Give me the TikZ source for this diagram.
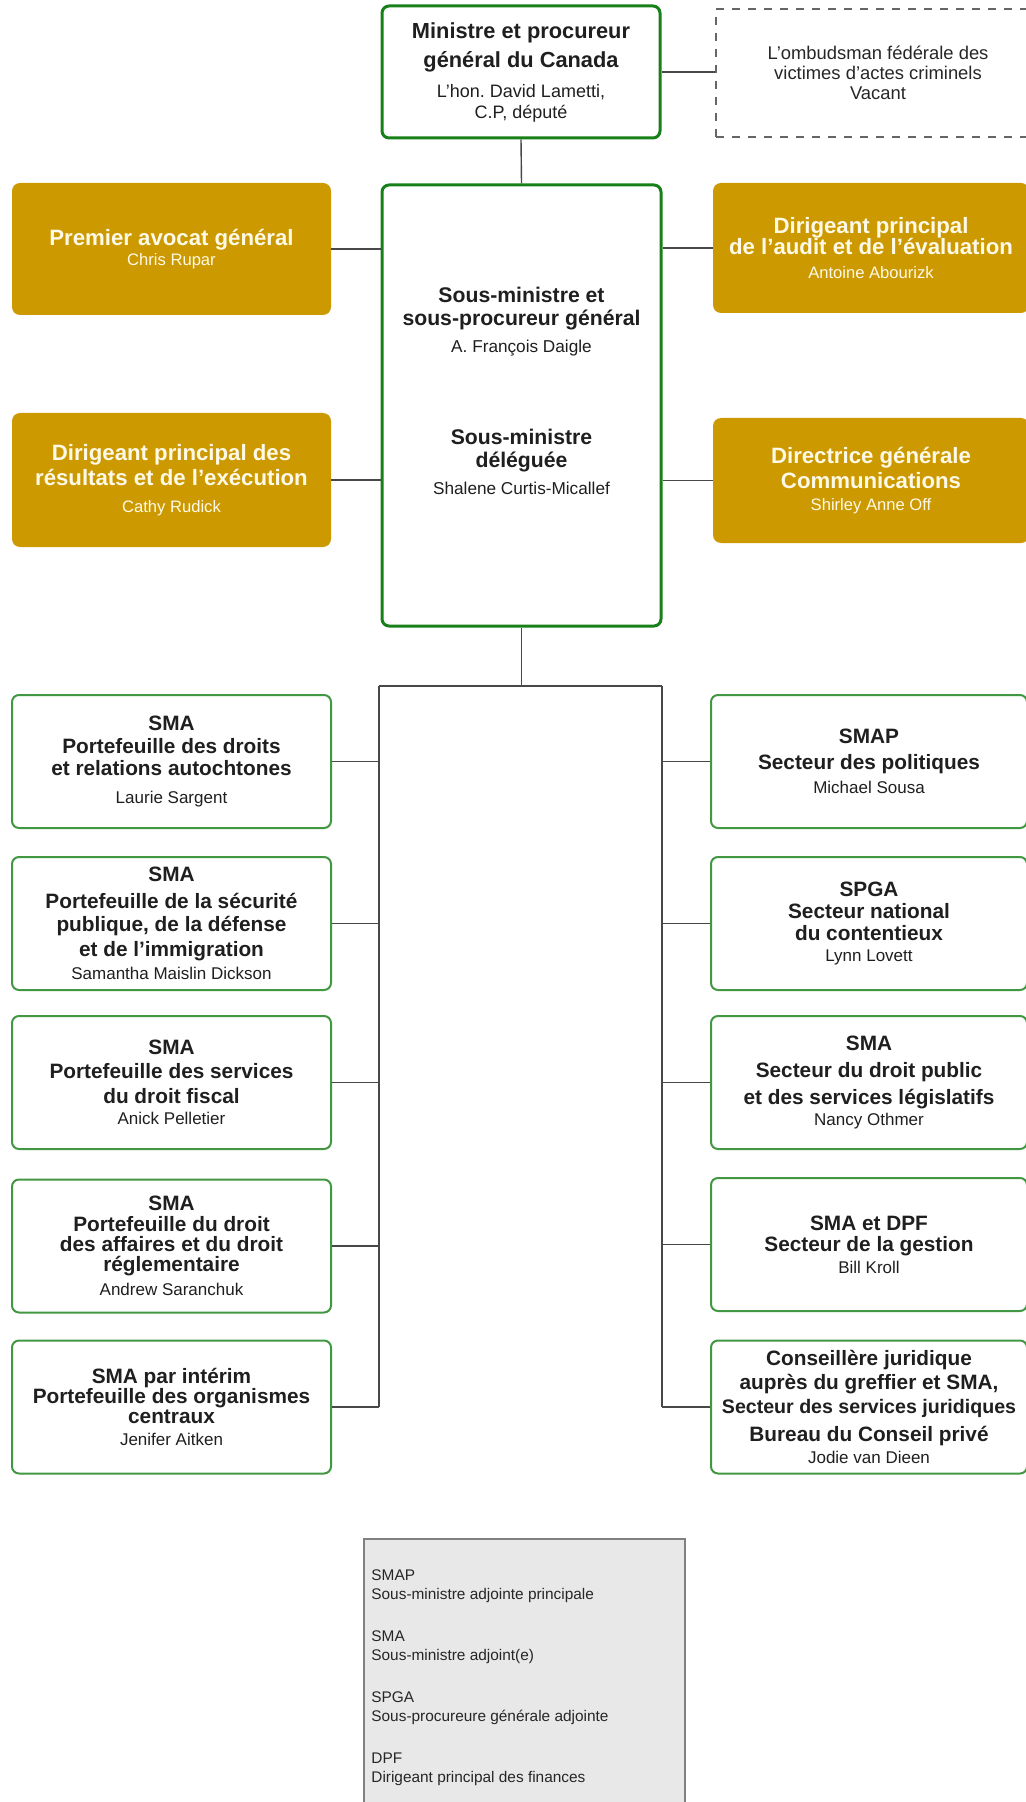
\documentclass[tikz,border=0pt]{standalone}
\usepackage{fontspec}
\setmainfont{Liberation Sans}
\usepackage{tikz}
\usetikzlibrary{calc}
\definecolor{topgreen}{RGB}{24,128,24}
\definecolor{boxgreen}{RGB}{66,152,66}
\definecolor{gold}{RGB}{204,153,0}
\definecolor{goldtext}{RGB}{255,250,232}
\definecolor{linkgray}{RGB}{72,72,72}
\definecolor{leggray}{RGB}{232,232,232}
\def\topttl{\fontsize{10.9}{14.5}\selectfont\bfseries}
\def\topnm{\fontsize{9}{10.5}\selectfont\mdseries}
\def\bigttl{\fontsize{10.6}{11.5}\selectfont\bfseries}
\def\bignm{\fontsize{8.6}{11.5}\selectfont\mdseries}
\def\goldttl{\fontsize{11.1}{12.5}\selectfont\bfseries}
\def\goldnm{\fontsize{8.3}{12.5}\selectfont\mdseries}
\def\colttl{\fontsize{10.4}{11}\selectfont\bfseries}
\def\colnm{\fontsize{8.5}{11}\selectfont\mdseries}
\def\vacf{\fontsize{9.2}{10}\selectfont}
\def\legf{\fontsize{7.7}{9.5}\selectfont}
\tikzset{
  topbox/.style={draw=topgreen, line width=1.5pt, rounded corners=3.5pt, fill=white, align=center, inner sep=0pt, text=black!88},
  colbox/.style={draw=boxgreen, line width=1pt, rounded corners=3.5pt, fill=white, align=center, inner sep=0pt, minimum height=66.5pt, text=black!88, font=\colttl},
  goldbox/.style={fill=gold, rounded corners=4pt, align=center, inner sep=0pt, text=goldtext, font=\goldttl},
  vacantbox/.style={draw=black!60, dash pattern=on 4pt off 4pt, line width=0.7pt, align=center, inner sep=0pt, text=black!85, font=\vacf},
  link/.style={draw=linkgray, line width=0.7pt},
  legendbox/.style={draw=black!50, fill=leggray, line width=0.9pt, inner sep=0pt}
}

\begin{document}
\begin{tikzpicture}[x=0.5pt, y=-0.5pt]
			%%%%% START %%%%%
			\useasboundingbox (0,0) rectangle (1025,1802);
			
			\node[topbox, font=\topttl, minimum width=139pt, minimum height=66pt] (min) at (521,72)
			  {Ministre et procureur\\général du Canada\\[0.5pt]\topnm L'hon.\ David Lametti,\\[-4pt]\topnm C.P, député};
			\node[vacantbox, minimum width=162pt, minimum height=64pt] (ombud) at (878,73)
			  {L’ombudsman fédérale des\\victimes d’actes criminels\\Vacant};
			
			\node[topbox, minimum width=139.5pt, minimum height=220.5pt] (sm) at (521.5,405.5) {};
			\node[align=center, text=black!88, font=\bigttl] (smA) at (521.5,322)
			  {Sous-ministre et\\sous-procureur général\\[2pt]\bignm A. François Daigle};
			\node[align=center, text=black!88, font=\bigttl] (smB) at (521.5,462)
			  {Sous-ministre\\déléguée\\[2pt]\bignm Shalene Curtis-Micallef};
			
			\node[goldbox, minimum width=159.5pt, minimum height=66pt] (gl1) at (171.5,249)
			  {Premier avocat général\\[-2.5pt]\goldnm Chris Rupar};
			\node[goldbox, minimum width=159.5pt, minimum height=67pt] (gl2) at (171.5,480)
			  {Dirigeant principal des\\résultats et de l’exécution\\[1pt]\goldnm Cathy Rudick};
			\node[goldbox, minimum width=158pt, minimum height=65pt] (gr1) at (871,248)
			  {Dirigeant principal\\[-2pt]de l'audit et de l'évaluation\\[-0.5pt]\goldnm Antoine Abourizk};
			\node[goldbox, minimum width=158pt, minimum height=62.5pt] (gr2) at (871,480.5)
			  {Directrice générale\\Communications\\[-1.5pt]\goldnm Shirley Anne Off};
			
			% left column
			\node[colbox, minimum width=159.5pt] (l1) at (171.5,761.5)
			  {SMA\\[0.5pt]Portefeuille des droits\\et relations autochtones\\[3pt]\colnm Laurie Sargent};
			\node[colbox, minimum width=159.5pt] (l2) at (171.5,923.5)
			  {SMA\\[2.5pt]Portefeuille de la sécurité\\[0.5pt]publique, de la défense\\[1.5pt]et de l’immigration\\[0.5pt]\colnm Samantha Maislin Dickson};
			\node[colbox, minimum width=159.5pt] (l3) at (171.5,1082.5)
			  {SMA\\[1pt]Portefeuille des services\\[1.5pt]du droit fiscal\\[-0.5pt]\colnm Anick Pelletier};
			\node[colbox, minimum width=159.5pt] (l4) at (171.5,1246)
			  {SMA\\[-0.5pt]Portefeuille du droit\\[-1pt]des affaires et du droit\\[-1pt]réglementaire\\[1pt]\colnm Andrew Saranchuk};
			\node[colbox, minimum width=159.5pt] (l5) at (171.5,1407)
			  {SMA par intérim\\[-1pt]Portefeuille des organismes\\[-1pt]centraux\\\colnm Jenifer Aitken};
			
			% right column
			\node[colbox, minimum width=158pt] (r1) at (869,761.5)
			  {SMAP\\[2pt]Secteur des politiques\\[1pt]\colnm Michael Sousa};
			\node[colbox, minimum width=158pt] (r2) at (869,923.5)
			  {SPGA\\Secteur national\\du contentieux\\[-0.5pt]\colnm Lynn Lovett};
			\node[colbox, minimum width=158pt] (r3) at (869,1082.5)
			  {SMA\\[2.5pt]Secteur du droit public\\[2.5pt]et des services législatifs\\[-0.5pt]\colnm Nancy Othmer};
			\node[colbox, minimum width=158pt] (r4) at (869,1244.5)
			  {SMA et DPF\\[-0.5pt]Secteur de la gestion\\\colnm Bill Kroll};
			\node[colbox, minimum width=158pt] (r5) at (869,1407)
			  {Conseillère juridique\\[1pt]auprès du greffier et SMA,\\[1pt]\fontsize{9.8}{11}\selectfont Secteur des services juridiques\\[3pt]Bureau du Conseil privé\\\colnm Jodie van Dieen};
			
			% links
			\draw[link] (min.south) -- (sm.north);
			\draw[link] (min.east) -- (min.east -| ombud.west);
			\draw[link] (gl1.east) -- (gl1.east -| sm.west);
			\draw[link] (gl2.east) -- (gl2.east -| sm.west);
			\draw[link] (gr1.west) -- (gr1.west -| sm.east);
			\draw[link] (gr2.west) -- (gr2.west -| sm.east);
			
			\coordinate (busL) at (379,686);
			\coordinate (busR) at (662,686);
			\draw[link] (sm.south) -- (sm.south |- busL);
			\draw[link] (busL) -- (busR);
			\draw[link] (busL) -- (busL |- l5.east);
			\draw[link] (busR) -- (busR |- r5.east);
			\foreach \n in {l1,l2,l3,l4,l5}
			  \draw[link] (\n.east) -- (\n.east -| busL);
			\foreach \n in {r1,r2,r3,r4,r5}
			  \draw[link] (\n.west) -- (\n.west -| busR);
			
			% legend
			\node[legendbox, anchor=north west, minimum width=160.5pt, minimum height=150pt] (legend) at (363,1538) {};
			\node[anchor=north west, inner sep=0pt, align=left, text=black!85, font=\legf] (legtxt) at (371,1569)
			  {SMAP\\Sous-ministre adjointe principale\\[11.5pt]SMA\\Sous-ministre adjoint(e)\\[11.5pt]SPGA\\Sous-procureure générale adjointe\\[11.5pt]DPF\\Dirigeant principal des finances};
			%%%%% END %%%%%
		\end{tikzpicture}
\end{document}
